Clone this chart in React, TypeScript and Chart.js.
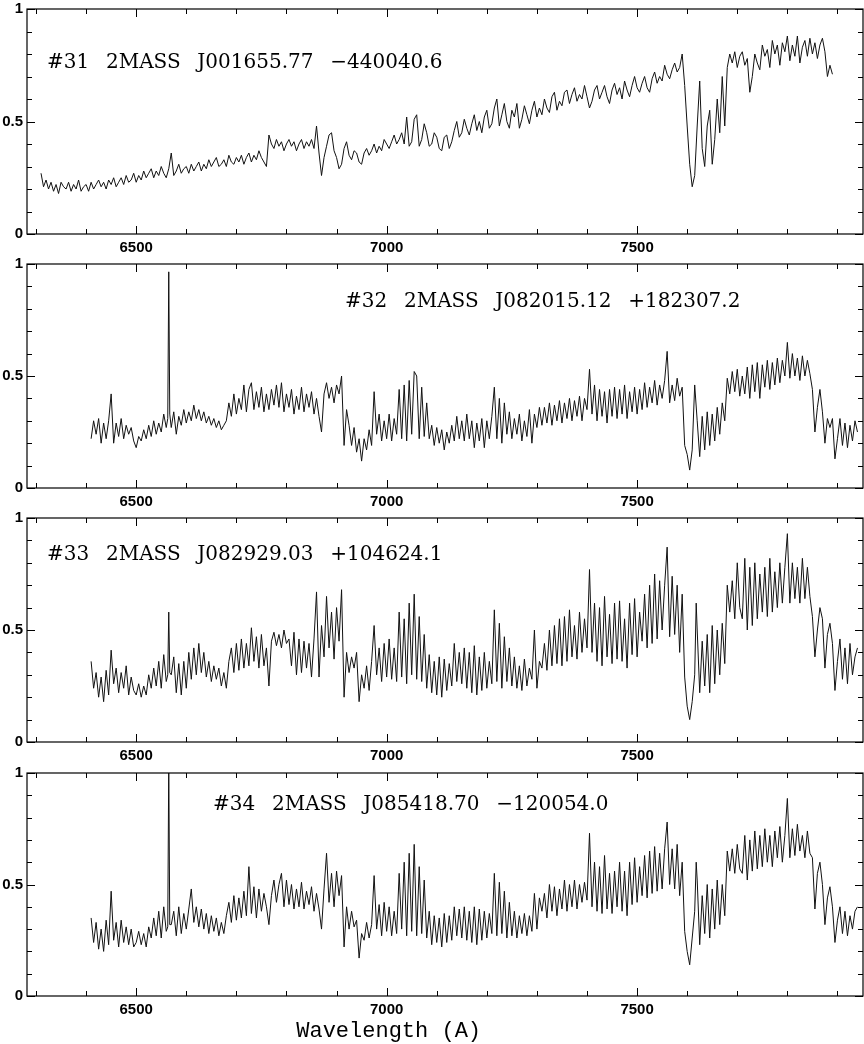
import React, { useEffect, useRef } from "react";
import { Chart, registerables } from "chart.js";

Chart.register(...registerables);

// ---------- axes ----------
const WAVE_MIN = 6282;
const WAVE_MAX = 7951;
const STEP = 5;
const X_LABEL_TICKS = [6500, 7000, 7500];
const X_MINOR_TICKS = [6300, 6400, 6500, 6600, 6700, 6800, 6900, 7000, 7100, 7200, 7300, 7400, 7500, 7600, 7700, 7800, 7900];
const Y_LABEL_TICKS = [0, 0.5, 1];
const Y_MINOR_TICKS = [0, 0.1, 0.2, 0.3, 0.4, 0.5, 0.6, 0.7, 0.8, 0.9, 1];
const AXIS_LABEL = "Wavelength (A)";

// ---------- #31 (6310 .. 7890, every 5 A) ----------
const TITLE_31 = "#31  2MASS  J001655.77  \u2212440040.6";
const START_31 = 6310;
const FLUX_31 = [
  0.27, 0.21, 0.24, 0.20, 0.23, 0.19, 0.22, 0.18, 0.23, 0.21, 0.20, 0.23, 0.19, 0.22, 0.20, 0.24, 0.19, 0.21, 0.22, 0.19,
  0.23, 0.20, 0.22, 0.24, 0.21, 0.23, 0.20, 0.24, 0.22, 0.25, 0.21, 0.23, 0.25, 0.22, 0.26, 0.23, 0.24, 0.27, 0.23, 0.26,
  0.24, 0.28, 0.25, 0.27, 0.29, 0.25, 0.28, 0.26, 0.30, 0.27, 0.25, 0.29, 0.36, 0.26, 0.28, 0.31, 0.27, 0.29, 0.30, 0.27,
  0.31, 0.28, 0.30, 0.32, 0.28, 0.31, 0.29, 0.33, 0.30, 0.32, 0.34, 0.30, 0.31, 0.33, 0.30, 0.35, 0.32, 0.31, 0.34, 0.32,
  0.35, 0.31, 0.34, 0.36, 0.32, 0.35, 0.33, 0.37, 0.34, 0.32, 0.30, 0.44, 0.40, 0.38, 0.42, 0.39, 0.41, 0.37, 0.40, 0.42,
  0.39, 0.41, 0.37, 0.40, 0.42, 0.38, 0.41, 0.39, 0.42, 0.38, 0.48, 0.36, 0.26, 0.34, 0.39, 0.44, 0.45, 0.37, 0.34, 0.29,
  0.31, 0.38, 0.41, 0.35, 0.33, 0.37, 0.36, 0.32, 0.31, 0.36, 0.38, 0.35, 0.37, 0.40, 0.36, 0.39, 0.37, 0.42, 0.40, 0.38,
  0.41, 0.44, 0.40, 0.42, 0.45, 0.40, 0.52, 0.39, 0.41, 0.51, 0.53, 0.39, 0.42, 0.49, 0.45, 0.39, 0.40, 0.45, 0.43, 0.38,
  0.37, 0.43, 0.44, 0.38, 0.41, 0.46, 0.50, 0.43, 0.45, 0.51, 0.47, 0.44, 0.49, 0.53, 0.46, 0.50, 0.45, 0.52, 0.55, 0.47,
  0.49, 0.56, 0.60, 0.48, 0.53, 0.58, 0.50, 0.47, 0.55, 0.52, 0.58, 0.47, 0.51, 0.57, 0.53, 0.49, 0.55, 0.59, 0.52, 0.56,
  0.53, 0.60, 0.56, 0.54, 0.61, 0.63, 0.55, 0.59, 0.57, 0.63, 0.64, 0.58, 0.62, 0.65, 0.59, 0.62, 0.60, 0.66, 0.61, 0.56,
  0.59, 0.64, 0.66, 0.60, 0.63, 0.66, 0.61, 0.58, 0.64, 0.67, 0.62, 0.65, 0.60, 0.68, 0.64, 0.61, 0.66, 0.70, 0.65, 0.63,
  0.67, 0.70, 0.65, 0.63, 0.69, 0.72, 0.67, 0.70, 0.68, 0.75, 0.71, 0.69, 0.73, 0.76, 0.72, 0.74, 0.80, 0.66, 0.48, 0.31,
  0.21, 0.26, 0.48, 0.68, 0.38, 0.30, 0.48, 0.55, 0.31, 0.42, 0.60, 0.45, 0.70, 0.48, 0.74, 0.80, 0.76, 0.81, 0.74, 0.79,
  0.81, 0.75, 0.78, 0.63, 0.70, 0.80, 0.76, 0.73, 0.84, 0.79, 0.82, 0.74, 0.86, 0.80, 0.84, 0.75, 0.85, 0.81, 0.88, 0.77,
  0.84, 0.79, 0.88, 0.76, 0.83, 0.86, 0.79, 0.87, 0.80, 0.85, 0.78, 0.84, 0.87, 0.81, 0.70, 0.75, 0.71,
];
const LINES_31: [number, number][] = [];

// ---------- #32 (6410 .. 7940, every 5 A) ----------
const TITLE_32 = "#32  2MASS  J082015.12  +182307.2";
const START_32 = 6410;
const FLUX_32 = [
  0.22, 0.30, 0.24, 0.31, 0.20, 0.29, 0.22, 0.30, 0.42, 0.20, 0.29, 0.23, 0.31, 0.22, 0.28, 0.24, 0.27, 0.21, 0.18, 0.23,
  0.21, 0.26, 0.22, 0.28, 0.23, 0.30, 0.24, 0.29, 0.25, 0.33, 0.27, 0.965, 0.27, 0.34, 0.24, 0.32, 0.28, 0.35, 0.29, 0.34,
  0.30, 0.37, 0.31, 0.35, 0.30, 0.34, 0.29, 0.32, 0.28, 0.31, 0.27, 0.30, 0.26, 0.28, 0.30, 0.38, 0.32, 0.42, 0.33, 0.40,
  0.35, 0.46, 0.34, 0.44, 0.47, 0.35, 0.43, 0.36, 0.45, 0.34, 0.42, 0.35, 0.44, 0.37, 0.46, 0.36, 0.47, 0.34, 0.42, 0.36,
  0.44, 0.33, 0.41, 0.35, 0.45, 0.34, 0.42, 0.36, 0.43, 0.33, 0.40, 0.32, 0.25, 0.42, 0.47, 0.40, 0.45, 0.38, 0.46, 0.42,
  0.50, 0.19, 0.35, 0.28, 0.19, 0.27, 0.16, 0.22, 0.12, 0.22, 0.17, 0.26, 0.19, 0.43, 0.24, 0.33, 0.21, 0.30, 0.22, 0.33,
  0.21, 0.31, 0.24, 0.44, 0.22, 0.46, 0.21, 0.48, 0.24, 0.52, 0.50, 0.22, 0.45, 0.23, 0.38, 0.22, 0.28, 0.19, 0.27, 0.20,
  0.26, 0.17, 0.25, 0.20, 0.28, 0.21, 0.32, 0.22, 0.30, 0.21, 0.33, 0.22, 0.30, 0.18, 0.29, 0.21, 0.31, 0.18, 0.30, 0.22,
  0.32, 0.45, 0.22, 0.40, 0.20, 0.38, 0.24, 0.34, 0.22, 0.31, 0.24, 0.33, 0.21, 0.30, 0.23, 0.35, 0.20, 0.33, 0.27, 0.36,
  0.28, 0.36, 0.29, 0.38, 0.28, 0.37, 0.30, 0.39, 0.29, 0.38, 0.31, 0.40, 0.30, 0.39, 0.32, 0.41, 0.30, 0.40, 0.35, 0.53,
  0.33, 0.46, 0.30, 0.44, 0.32, 0.43, 0.29, 0.44, 0.32, 0.45, 0.31, 0.44, 0.33, 0.46, 0.31, 0.43, 0.34, 0.45, 0.33, 0.44,
  0.35, 0.47, 0.36, 0.45, 0.38, 0.48, 0.37, 0.46, 0.40, 0.48, 0.61, 0.38, 0.46, 0.39, 0.49, 0.41, 0.45, 0.19, 0.15, 0.08,
  0.17, 0.46, 0.30, 0.14, 0.32, 0.17, 0.34, 0.19, 0.33, 0.21, 0.36, 0.24, 0.38, 0.30, 0.49, 0.42, 0.52, 0.43, 0.53, 0.41,
  0.50, 0.42, 0.54, 0.40, 0.55, 0.43, 0.56, 0.40, 0.55, 0.45, 0.57, 0.44, 0.56, 0.46, 0.58, 0.47, 0.57, 0.50, 0.65, 0.49,
  0.60, 0.50, 0.58, 0.48, 0.59, 0.50, 0.57, 0.51, 0.44, 0.25, 0.36, 0.44, 0.34, 0.20, 0.31, 0.27, 0.31, 0.13, 0.22, 0.31,
  0.19, 0.29, 0.18, 0.28, 0.21, 0.30, 0.25,
];
const LINES_32: [number, number][] = [[6563, 0.31], [6567, 0.33]];

// ---------- #33 (6410 .. 7940, every 5 A) ----------
const TITLE_33 = "#33  2MASS  J082929.03  +104624.1";
const START_33 = 6410;
const FLUX_33 = [
  0.36, 0.24, 0.31, 0.20, 0.29, 0.18, 0.32, 0.21, 0.41, 0.26, 0.33, 0.22, 0.31, 0.24, 0.34, 0.21, 0.29, 0.23, 0.21, 0.26,
  0.20, 0.25, 0.21, 0.30, 0.24, 0.33, 0.25, 0.36, 0.24, 0.39, 0.27, 0.58, 0.30, 0.38, 0.22, 0.35, 0.21, 0.36, 0.24, 0.40,
  0.28, 0.42, 0.30, 0.44, 0.31, 0.40, 0.29, 0.36, 0.27, 0.34, 0.28, 0.33, 0.25, 0.31, 0.24, 0.36, 0.42, 0.31, 0.44, 0.32,
  0.46, 0.33, 0.44, 0.34, 0.51, 0.36, 0.47, 0.33, 0.48, 0.34, 0.42, 0.25, 0.45, 0.49, 0.43, 0.48, 0.42, 0.50, 0.44, 0.46,
  0.34, 0.49, 0.30, 0.46, 0.31, 0.45, 0.33, 0.44, 0.29, 0.46, 0.67, 0.29, 0.52, 0.38, 0.65, 0.42, 0.58, 0.37, 0.60, 0.45,
  0.68, 0.20, 0.40, 0.31, 0.38, 0.33, 0.40, 0.18, 0.30, 0.24, 0.34, 0.23, 0.36, 0.52, 0.30, 0.42, 0.27, 0.44, 0.29, 0.46,
  0.28, 0.42, 0.27, 0.58, 0.29, 0.55, 0.26, 0.62, 0.30, 0.66, 0.28, 0.56, 0.27, 0.48, 0.24, 0.39, 0.22, 0.36, 0.21, 0.38,
  0.20, 0.37, 0.23, 0.35, 0.25, 0.44, 0.27, 0.40, 0.26, 0.42, 0.24, 0.40, 0.22, 0.43, 0.21, 0.38, 0.23, 0.40, 0.24, 0.36,
  0.26, 0.59, 0.27, 0.53, 0.24, 0.47, 0.27, 0.42, 0.25, 0.38, 0.24, 0.34, 0.23, 0.37, 0.25, 0.33, 0.28, 0.50, 0.24, 0.36,
  0.33, 0.44, 0.32, 0.50, 0.34, 0.52, 0.35, 0.55, 0.34, 0.56, 0.36, 0.59, 0.38, 0.52, 0.37, 0.58, 0.40, 0.55, 0.42, 0.77,
  0.40, 0.62, 0.36, 0.60, 0.34, 0.65, 0.38, 0.57, 0.35, 0.62, 0.37, 0.63, 0.36, 0.55, 0.33, 0.62, 0.39, 0.64, 0.38, 0.58,
  0.45, 0.66, 0.42, 0.70, 0.44, 0.75, 0.46, 0.72, 0.50, 0.70, 0.87, 0.47, 0.74, 0.48, 0.70, 0.40, 0.66, 0.29, 0.16, 0.10,
  0.18, 0.30, 0.50, 0.22, 0.45, 0.25, 0.48, 0.22, 0.52, 0.26, 0.50, 0.30, 0.53, 0.35, 0.70, 0.58, 0.72, 0.55, 0.80, 0.60,
  0.55, 0.82, 0.50, 0.78, 0.52, 0.80, 0.55, 0.75, 0.58, 0.78, 0.56, 0.82, 0.58, 0.76, 0.60, 0.80, 0.62, 0.78, 0.93, 0.62,
  0.80, 0.64, 0.78, 0.62, 0.82, 0.64, 0.78, 0.65, 0.56, 0.38, 0.50, 0.60, 0.55, 0.33, 0.48, 0.53, 0.44, 0.23, 0.36, 0.46,
  0.28, 0.42, 0.26, 0.44, 0.30, 0.38, 0.42,
];
const LINES_33: [number, number][] = [[6563, 0.30], [6567, 0.31], [7618, 0.62]];

// ---------- #34 (6410 .. 7940, every 5 A) ----------
const TITLE_34 = "#34  2MASS  J085418.70  \u2212120054.0";
const START_34 = 6410;
const FLUX_34 = [
  0.35, 0.24, 0.33, 0.21, 0.30, 0.20, 0.34, 0.23, 0.47, 0.25, 0.33, 0.22, 0.34, 0.24, 0.31, 0.23, 0.30, 0.22, 0.24, 0.29,
  0.23, 0.28, 0.22, 0.31, 0.26, 0.35, 0.27, 0.38, 0.26, 0.40, 0.29, 1.05, 0.32, 0.38, 0.27, 0.40, 0.28, 0.37, 0.30, 0.39,
  0.48, 0.33, 0.40, 0.31, 0.39, 0.30, 0.37, 0.28, 0.36, 0.29, 0.35, 0.27, 0.33, 0.28, 0.36, 0.42, 0.33, 0.45, 0.34, 0.44,
  0.35, 0.47, 0.36, 0.58, 0.37, 0.49, 0.35, 0.48, 0.38, 0.46, 0.40, 0.32, 0.45, 0.52, 0.42, 0.50, 0.55, 0.40, 0.52, 0.41,
  0.50, 0.39, 0.48, 0.40, 0.51, 0.39, 0.47, 0.41, 0.49, 0.38, 0.46, 0.39, 0.30, 0.48, 0.64, 0.42, 0.55, 0.40, 0.56, 0.45,
  0.54, 0.22, 0.40, 0.30, 0.38, 0.31, 0.34, 0.17, 0.28, 0.25, 0.33, 0.26, 0.32, 0.54, 0.30, 0.41, 0.27, 0.42, 0.29, 0.40,
  0.27, 0.38, 0.28, 0.55, 0.30, 0.60, 0.27, 0.64, 0.29, 0.68, 0.27, 0.58, 0.28, 0.52, 0.26, 0.38, 0.23, 0.36, 0.24, 0.35,
  0.22, 0.37, 0.24, 0.36, 0.25, 0.40, 0.27, 0.39, 0.26, 0.40, 0.25, 0.38, 0.24, 0.40, 0.23, 0.39, 0.25, 0.38, 0.26, 0.37,
  0.28, 0.55, 0.27, 0.51, 0.28, 0.47, 0.26, 0.42, 0.27, 0.38, 0.26, 0.36, 0.28, 0.37, 0.27, 0.36, 0.29, 0.46, 0.30, 0.44,
  0.38, 0.46, 0.35, 0.50, 0.38, 0.49, 0.36, 0.48, 0.39, 0.52, 0.38, 0.50, 0.40, 0.52, 0.39, 0.50, 0.42, 0.51, 0.43, 0.73,
  0.40, 0.60, 0.38, 0.58, 0.37, 0.63, 0.39, 0.55, 0.37, 0.56, 0.40, 0.60, 0.38, 0.56, 0.36, 0.60, 0.41, 0.62, 0.42, 0.58,
  0.45, 0.63, 0.44, 0.65, 0.46, 0.67, 0.47, 0.64, 0.48, 0.66, 0.78, 0.50, 0.66, 0.48, 0.68, 0.45, 0.60, 0.29, 0.20, 0.14,
  0.26, 0.38, 0.52, 0.23, 0.45, 0.28, 0.50, 0.26, 0.48, 0.30, 0.52, 0.32, 0.50, 0.36, 0.65, 0.56, 0.66, 0.55, 0.68, 0.57,
  0.55, 0.72, 0.52, 0.70, 0.56, 0.74, 0.57, 0.72, 0.58, 0.75, 0.60, 0.72, 0.58, 0.74, 0.62, 0.76, 0.60, 0.72, 0.886, 0.62,
  0.75, 0.63, 0.77, 0.65, 0.72, 0.62, 0.74, 0.64, 0.62, 0.39, 0.55, 0.60, 0.50, 0.32, 0.44, 0.49, 0.40, 0.24, 0.34, 0.40,
  0.28, 0.38, 0.27, 0.36, 0.30, 0.38, 0.40,
];
const LINES_34: [number, number][] = [[6563, 0.31], [6567, 0.32], [7618, 0.60]];

// ---------- layout (page pixels) ----------
const PANELS = [
  { title: TITLE_31, start: START_31, flux: FLUX_31, lines: LINES_31, top: -4, area: 230, bottom: 24, titleX: 47, titleDy: 59, axisLabel: false },
  { title: TITLE_32, start: START_32, flux: FLUX_32, lines: LINES_32, top: 251, area: 229, bottom: 24, titleX: 345, titleDy: 43, axisLabel: false },
  { title: TITLE_33, start: START_33, flux: FLUX_33, lines: LINES_33, top: 505, area: 229, bottom: 24, titleX: 47, titleDy: 42, axisLabel: false },
  { title: TITLE_34, start: START_34, flux: FLUX_34, lines: LINES_34, top: 760, area: 228, bottom: 48, titleX: 213, titleDy: 37, axisLabel: true },
];
const PAD_TOP = 8;

function buildPoints(start: number, flux: number[], lines: [number, number][]) {
  const pts = flux.map((f, i) => ({ x: start + i * STEP, y: f }));
  for (const [x, y] of lines) pts.push({ x, y });
  pts.sort((a, b) => a.x - b.x);
  return pts;
}

const framePlugin = {
  id: "frame",
  afterDraw(chart: any, _args: any, opts: any) {
    const { ctx, chartArea: a, scales } = chart;
    const x = scales.x;
    const y = scales.y;
    ctx.save();
    ctx.strokeStyle = "#000";
    ctx.lineWidth = 1.2;
    ctx.strokeRect(a.left, a.top, a.right - a.left, a.bottom - a.top);
    ctx.lineWidth = 1;
    ctx.beginPath();
    for (const v of X_MINOR_TICKS) {
      const px = Math.round(x.getPixelForValue(v)) + 0.5;
      const len = X_LABEL_TICKS.includes(v) ? 8 : 5;
      ctx.moveTo(px, a.bottom);
      ctx.lineTo(px, a.bottom - len);
      ctx.moveTo(px, a.top);
      ctx.lineTo(px, a.top + len);
    }
    for (const v of Y_MINOR_TICKS) {
      const py = Math.round(y.getPixelForValue(v)) + 0.5;
      const len = Y_LABEL_TICKS.includes(v) ? 8 : 5;
      ctx.moveTo(a.left, py);
      ctx.lineTo(a.left + len, py);
      ctx.moveTo(a.right, py);
      ctx.lineTo(a.right - len, py);
    }
    ctx.stroke();

    ctx.fillStyle = "#000";
    ctx.textAlign = "left";
    ctx.textBaseline = "alphabetic";
    ctx.font = '20px "DejaVu Serif"';
    try { (ctx as any).wordSpacing = "2px"; } catch (e) {}
    ctx.fillText(opts.title, opts.titleX, a.top + opts.titleDy);
    try { (ctx as any).wordSpacing = "0px"; } catch (e) {}

    if (opts.axisLabel) {
      ctx.font = '22px "Liberation Mono"';
      ctx.textAlign = "center";
      ctx.fillText(AXIS_LABEL, x.getPixelForValue(7000) + 2, a.bottom + 41);
    }
    ctx.restore();
  },
};

const TICK_FONT = { family: '"Liberation Sans", Arial, sans-serif', size: 15, weight: "bold" };

function Panel({ cfg }: { cfg: any }) {
  const ref = useRef<HTMLCanvasElement>(null);
  const height = PAD_TOP + cfg.area + cfg.bottom;
  useEffect(() => {
    const chart = new Chart(ref.current as HTMLCanvasElement, {
      type: "line",
      data: {
        datasets: [
          {
            data: buildPoints(cfg.start, cfg.flux, cfg.lines),
            borderColor: "#111",
            borderWidth: 1,
            pointRadius: 0,
            tension: 0,
            fill: false,
          },
        ],
      },
      options: {
        animation: false,
        responsive: false,
        events: [],
        layout: { padding: { top: PAD_TOP, right: 1, left: 0, bottom: 0 }, autoPadding: false },
        plugins: {
          legend: { display: false },
          tooltip: { enabled: false },
          frame: { title: cfg.title, titleX: cfg.titleX, titleDy: cfg.titleDy, axisLabel: cfg.axisLabel },
        } as any,
        scales: {
          x: {
            type: "linear",
            min: WAVE_MIN,
            max: WAVE_MAX,
            grid: { display: false, drawTicks: false },
            border: { display: false },
            afterBuildTicks: (s: any) => { s.ticks = X_LABEL_TICKS.map((v) => ({ value: v })); },
            afterFit: (s: any) => { s.height = cfg.bottom; },
            ticks: { padding: 5, font: TICK_FONT, color: "#000", maxRotation: 0, autoSkip: false, callback: (v: any) => String(v) },
          },
          y: {
            type: "linear",
            min: 0,
            max: 1,
            grid: { display: false, drawTicks: false },
            border: { display: false },
            afterBuildTicks: (s: any) => { s.ticks = Y_LABEL_TICKS.map((v) => ({ value: v })); },
            afterFit: (s: any) => { s.width = 27; },
            ticks: { padding: 4, font: TICK_FONT, color: "#000", autoSkip: false, callback: (v: any) => String(v) },
          },
        },
      },
      plugins: [framePlugin],
    } as any);
    return () => chart.destroy();
  }, []);
  return (
    <canvas
      ref={ref}
      width={864}
      height={height}
      style={{ position: "absolute", left: 0, top: cfg.top, width: 864, height, display: "block" }}
    />
  );
}

export default function App() {
  return (
    <div style={{ position: "absolute", left: 0, top: 0, width: 864, height: 1044, background: "#fff", overflow: "hidden" }}>
      {PANELS.map((p, i) => (
        <Panel key={i} cfg={p} />
      ))}
    </div>
  );
}
